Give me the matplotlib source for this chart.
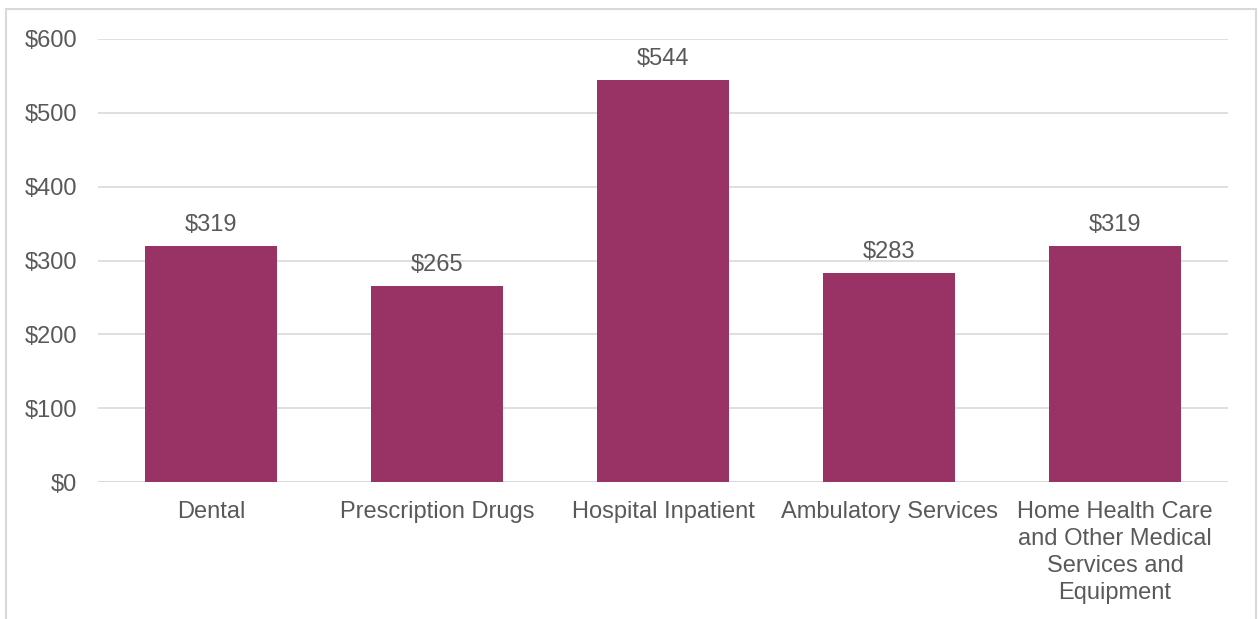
import matplotlib
matplotlib.use('Agg')
import matplotlib.pyplot as plt
from matplotlib.patches import Rectangle

categories = ['Dental', 'Prescription Drugs', 'Hospital Inpatient', 'Ambulatory Services',
              'Home Health Care\nand Other Medical\nServices and\nEquipment']
values = [319, 265, 544, 283, 319]
yticks = [0, 100, 200, 300, 400, 500, 600]

bar_color = '#993366'
text_color = '#595959'
grid_color = '#d9d9d9'

plt.rcParams['font.family'] = ['Liberation Sans', 'DejaVu Sans']

fig = plt.figure(figsize=(12.59, 6.19), dpi=100)
ax = fig.add_axes([0.0778, 0.2213, 0.8976, 0.7157])

x = range(len(categories))
bars = ax.bar(x, values, width=0.584, color=bar_color, zorder=3)

for i, v in enumerate(values):
    ax.text(i, v + 14, '${}'.format(v), ha='center', va='bottom', fontsize=17, color=text_color)

ax.set_xlim(-0.5, len(categories) - 0.5)
ax.set_ylim(0, 600)
ax.set_yticks(yticks)
ax.set_yticklabels(['${}'.format(t) for t in yticks])
ax.set_xticks(list(x))
ax.set_xticklabels(categories, linespacing=1.29)
ax.tick_params(axis='both', length=0, labelsize=17, labelcolor=text_color)
ax.tick_params(axis='y', pad=15)
ax.tick_params(axis='x', pad=14)
ax.yaxis.grid(True, color=grid_color, linewidth=1.2, zorder=0)
for s in ax.spines.values():
    s.set_visible(False)
ax.axhline(0, color=grid_color, linewidth=1.2, zorder=2)

# chart frame
fig.patches.append(Rectangle((6 / 1259, -0.1), 1250 / 1259, 1.1 - 9 / 619,
                             transform=fig.transFigure, fill=False,
                             edgecolor=grid_color, linewidth=1.5))

fig.savefig('out.png', dpi=100)
